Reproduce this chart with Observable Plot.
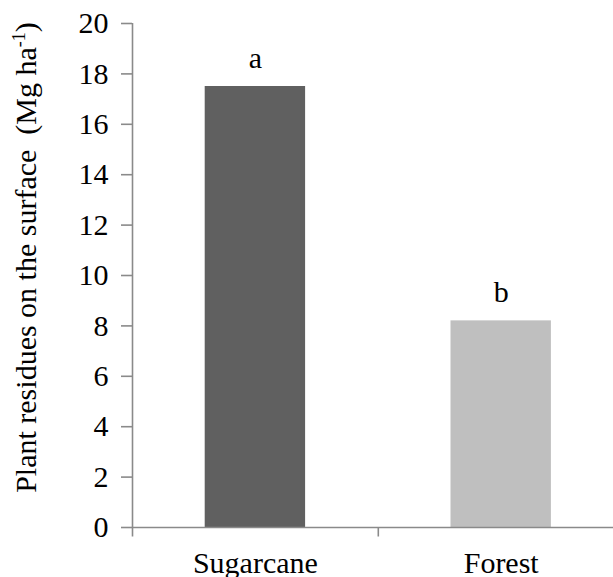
<!DOCTYPE html>
<html>
<head>
<meta charset="utf-8">
<script src="https://cdn.jsdelivr.net/npm/d3@7"></script>
<script src="https://cdn.jsdelivr.net/npm/@observablehq/plot@0.6"></script>
<style>
  html, body { margin: 0; padding: 0; background: white; }
  #chart svg g[aria-label="y-axis tick label"] { fill: black; }
</style>
</head>
<body>
<div id="chart"></div>
<script>
// Data
const categories = ["Sugarcane", "Forest"];
const residues = [17.5, 8.2];          // Mg ha-1
const letters = ["a", "b"];             // significance letters
const yTicks = [0, 2, 4, 6, 8, 10, 12, 14, 16, 18, 20];
const xBoundaries = [0, 1, 2];          // category band edges
const yTitle = "Plant residues on the surface\u00a0\u00a0(Mg ha";
const yTitleSup = "-1";

const data = categories.map((c, i) => ({
  category: c, index: i, value: residues[i], letter: letters[i]
}));

const axisGray = "#8a8a8a";

const chart = Plot.plot({
  width: 613,
  height: 577,
  marginLeft: 132,
  marginTop: 23,
  marginBottom: 50,
  marginRight: -10.6,
  x: { domain: [0, 2], axis: null },
  y: { domain: [0, 20], axis: null },
  color: { domain: categories, range: ["#606060", "#bfbfbf"] },
  style: { fontFamily: "'Liberation Serif', 'Times New Roman', serif", fontSize: "30px", background: "white", color: "black" },
  marks: [
    Plot.rectY(data, {
      x1: "index", x2: d => d.index + 1, y: "value",
      fill: "category", insetLeft: 72.7, insetRight: 72.7
    }),
    Plot.ruleY([0], { stroke: axisGray, strokeWidth: 1.6 }),
    Plot.ruleX([0], { stroke: axisGray, strokeWidth: 1.6 }),
    Plot.axisY(yTicks, {
      tickSize: 11, tickPadding: 13, stroke: axisGray, strokeWidth: 1.6,
      fill: "black", label: null, fontSize: 30
    }),
    Plot.axisX(xBoundaries, {
      tickSize: 9.5, stroke: axisGray, strokeWidth: 1.6,
      tickFormat: () => "", label: null
    }),
    Plot.text(data, {
      x: d => d.index + 0.5, y: () => 0, text: "category",
      dy: 45, lineAnchor: "bottom", fontSize: 30, fill: "black"
    }),
    Plot.text(data, {
      x: d => d.index + 0.5, y: "value", text: "letter",
      dy: -19, lineAnchor: "bottom", fontSize: 30, fill: "black"
    })
  ]
});

document.getElementById("chart").appendChild(chart);

// Y-axis title with superscript
const svg = d3.select(chart);
const t = svg.append("text")
  .attr("transform", "translate(36, 257.5) rotate(-90)")
  .attr("text-anchor", "middle")
  .attr("font-family", "'Liberation Serif', 'Times New Roman', serif")
  .attr("font-size", 30)
  .attr("fill", "black")
  .style("white-space", "pre");
t.append("tspan").text(yTitle);
t.append("tspan").attr("font-size", 18).attr("dy", -11).text(yTitleSup);
t.append("tspan").attr("dy", 11).text(")");
</script>
</body>
</html>
